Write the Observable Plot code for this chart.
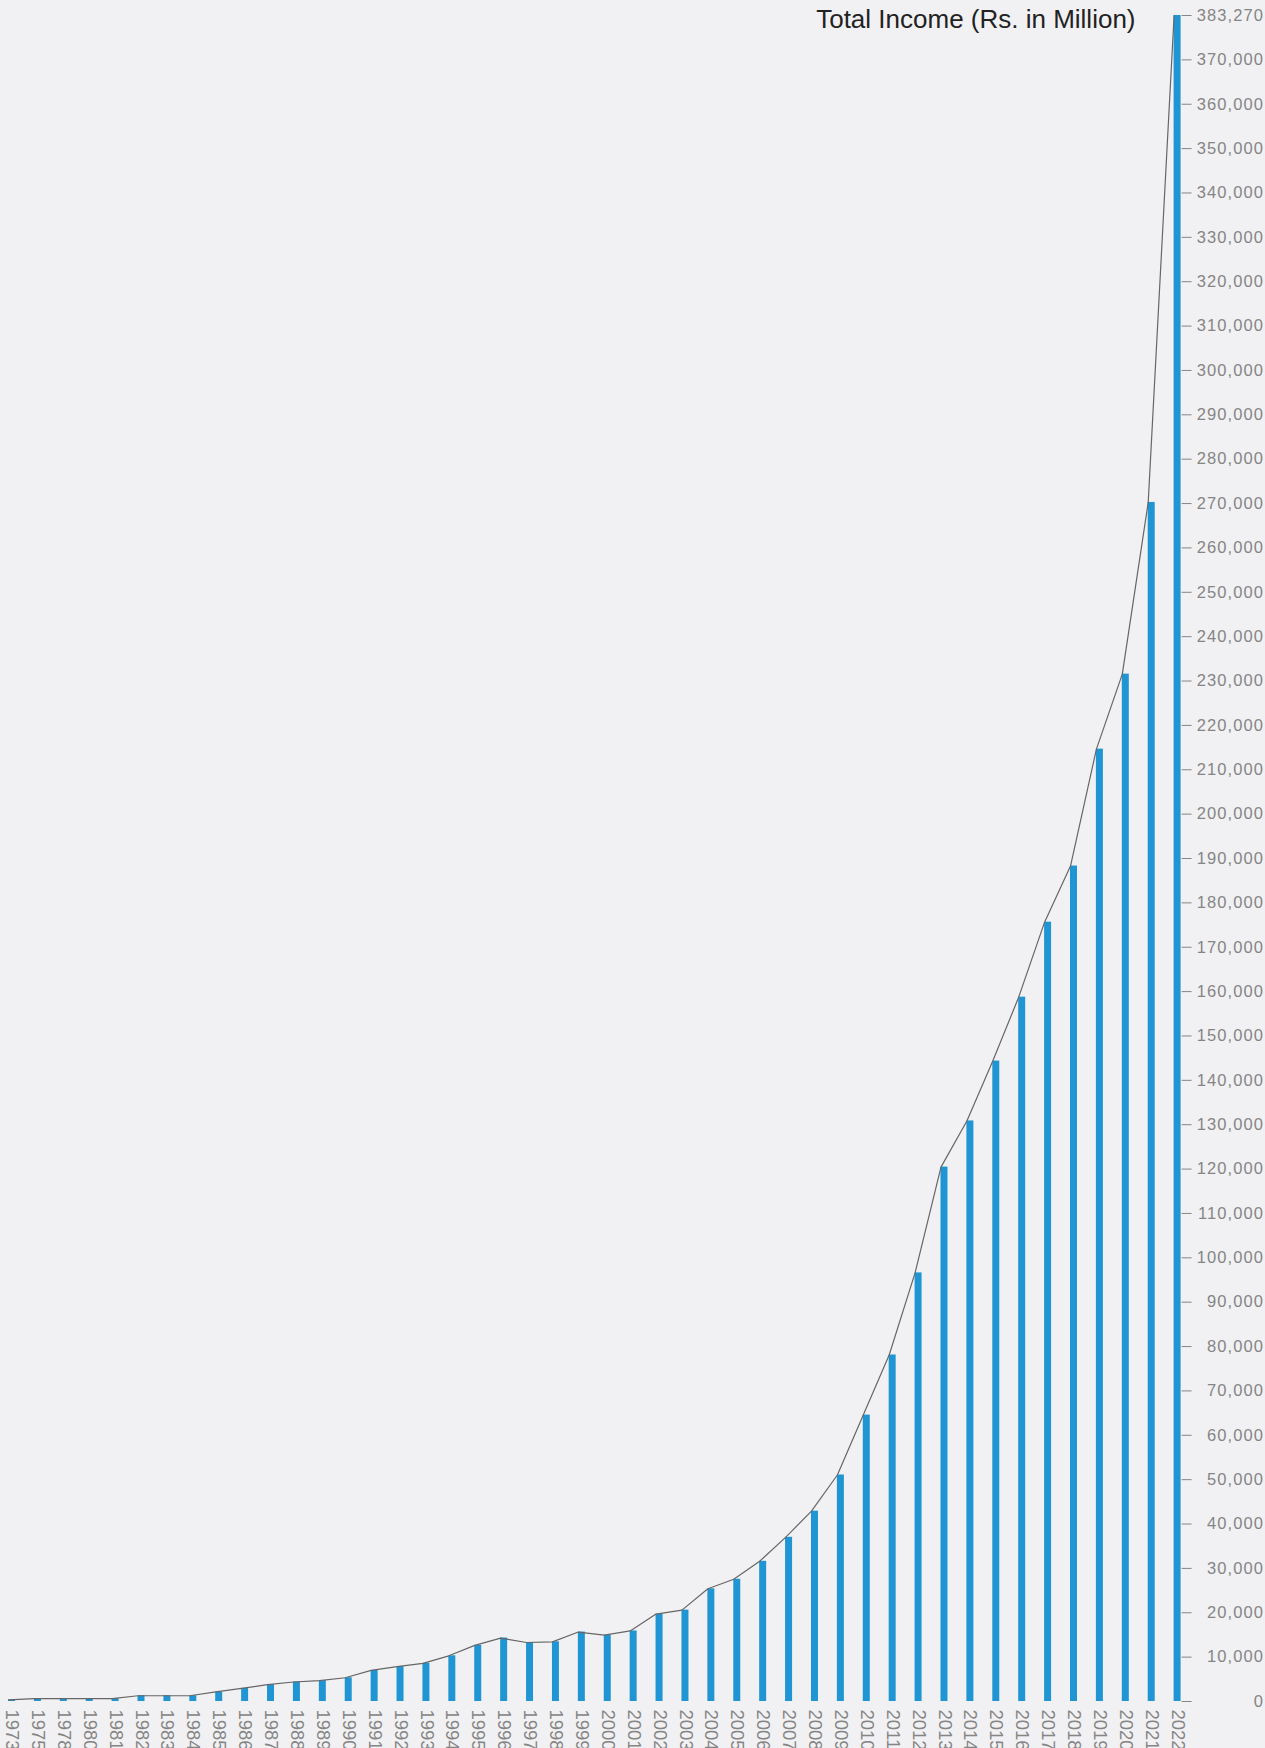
<!DOCTYPE html>
<html>
<head>
<meta charset="utf-8">
<script src="https://cdn.jsdelivr.net/npm/d3@7"></script>
<script src="https://cdn.jsdelivr.net/npm/@observablehq/plot@0.6"></script>
<style>
  html, body { margin: 0; padding: 0; background: #f1f1f3; overflow: hidden; }
  #chart svg g[aria-label="y-axis tick label"] text { letter-spacing: 1.1px; }
</style>
</head>
<body>
<div id="chart"></div>
<script>
const years = ["1973","1975","1978","1980","1981","1982","1983","1984","1985","1986","1987","1988","1989","1990","1991","1992","1993","1994","1995","1996","1997","1998","1999","2000","2001","2002","2003","2004","2005","2006","2007","2008","2009","2010","2011","2012","2013","2014","2015","2016","2017","2018","2019","2020","2021","2022"];
const income = [350,650,650,650,650,1300,1300,1300,2150,2950,3800,4400,4700,5350,7000,7850,8600,10300,12650,14300,13300,13450,15650,14950,15900,19700,20600,25400,27550,31600,37000,42900,51050,64550,78100,96600,120450,130850,144350,158750,175650,188300,214650,231550,270250,383270];
const yTickValues = [0,10000,20000,30000,40000,50000,60000,70000,80000,90000,100000,110000,120000,130000,140000,150000,160000,170000,180000,190000,200000,210000,220000,230000,240000,250000,260000,270000,280000,290000,300000,310000,320000,330000,340000,350000,360000,370000,383270];
const yDomainMax = 380000;
const titleText = "Total Income (Rs. in Million)";

const data = years.map((y, i) => ({year: y, value: income[i]}));

const chart = Plot.plot({
  width: 1265,
  height: 1748,
  marginTop: 15,
  marginBottom: 47,
  marginLeft: 8,
  marginRight: 84.4,
  style: {background: "#f1f1f3", fontFamily: "'Liberation Sans', Arial, Helvetica, sans-serif", overflow: "visible"},
  x: {type: "band", domain: years, paddingInner: 0.73, paddingOuter: 0, align: 0.5, label: null},
  y: {domain: [0, yDomainMax], clamp: true, label: null},
  marks: [
    Plot.barY(data, {x: "year", y: "value", fill: "#1f95d3"}),
    Plot.lineY(data, {x: "year", y: "value", curve: "linear", stroke: "#666666", strokeWidth: 1.2, dx: -3.5}),
    Plot.axisX({tickRotate: 90, tickSize: 0, tickPadding: 8, fontSize: 18.5, color: "#858585", label: null}),
    Plot.axisY({anchor: "right", ticks: yTickValues, tickFormat: d3.format(","), tickSize: 10, tickPadding: 73, textAnchor: "end", fontSize: 16.5, color: "#858585", label: null}),
    Plot.text([titleText], {frameAnchor: "top-right", text: d => d, textAnchor: "end", lineAnchor: "bottom", dx: -45.6, dy: 12, fontSize: 26, fill: "#222222"})
  ]
});
document.getElementById("chart").appendChild(chart);
</script>
</body>
</html>
